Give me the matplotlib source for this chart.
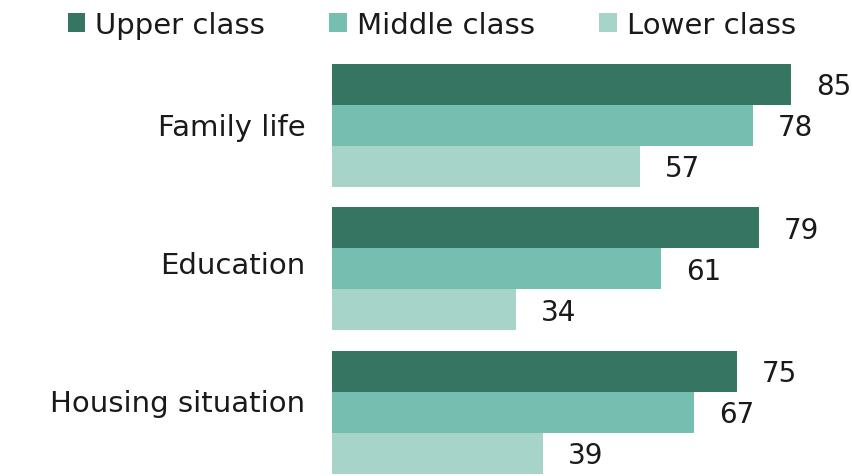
import matplotlib.pyplot as plt
import numpy as np

categories = ["Family life", "Education", "Housing situation"]
series_names = ["Upper class", "Middle class", "Lower class"]
upper = [85, 79, 75]
middle = [78, 61, 67]
lower = [57, 34, 39]
colors = ["#377563", "#76bfb0", "#a6d4c9"]

plt.rcParams['font.family'] = 'DejaVu Sans'
text_color = "#1a1a1a"

fig = plt.figure(figsize=(8.52, 4.77), dpi=100)
ax = fig.add_axes([332 / 852, 0, 1 - 332 / 852, 1 - 50 / 477])

y = np.arange(len(categories))
h = 0.2857
for i, (vals, name, c) in enumerate(zip([upper, middle, lower], series_names, colors)):
    bars = ax.barh(y + (i - 1) * h, vals, height=h, color=c, label=name)
    for b, v in zip(bars, vals):
        ax.text(v + 4.6, b.get_y() + h / 2 + 0.014, str(v), va='center', ha='left',
                fontsize=20, color=text_color)

ax.set_xlim(0, 96.3)
ax.set_ylim(2.443, -0.533)
# category labels sit slightly higher than the group centres in the original
ax.set_yticks(y * 0.962 - 0.01, categories)
ax.set_xticks([])
ax.tick_params(axis='y', length=0, pad=19, labelsize=21, labelcolor=text_color)
for s in ax.spines.values():
    s.set_visible(False)

fig.legend(loc='upper center', bbox_to_anchor=(0.507, 1.03), ncol=3, frameon=False,
           fontsize=21, handlelength=0.6, handleheight=0.6, handletextpad=0.35,
           columnspacing=2.2, labelcolor=text_color)

fig.savefig('out.png', dpi=100)
